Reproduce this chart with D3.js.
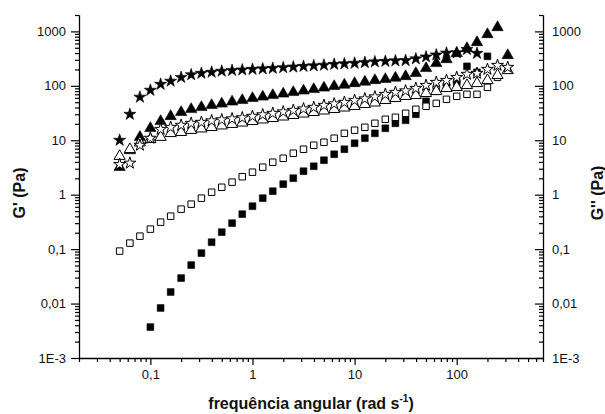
<!DOCTYPE html>
<html><head><meta charset="utf-8">
<script src="https://cdn.jsdelivr.net/npm/d3@7"></script>
<style>
body{margin:0;background:#fff;}
svg{display:block;font-family:Arial,"Liberation Sans",sans-serif;}
</style></head>
<body><svg id="chart" width="605" height="414"></svg>
<script>
const freq = [0.05,0.063,0.079,0.1,0.126,0.158,0.2,0.251,0.316,0.398,0.5,0.631,0.794,1,1.26,1.58,2,2.51,3.16,3.98,5.01,6.31,7.94,10,12.6,15.8,20,25.1,31.6,39.8,50.1,63.1,79.4,100,126,158,200,251,316];
const starFilled = [10,30,62,83,107,122,143,160,170,178,186,192,196,201,205,210,216,222,228,234,240,248,254,260,268,276,282,288,292,313,340,370,400,405,465,395,null,null,null];
const triFilled = [3.2,6.5,11.4,16.6,22.3,27.5,32.7,37,40.3,43.9,46.7,50.9,54.2,59,62.8,66.9,71.3,76,81,86.3,91.9,97.9,104,111,118,126,132,140,149,170,210,259,306,395,488,628,881,1184,363];
const triOpen = [5.1,6.8,9.0,10.4,11.4,13.4,14,15.3,16.3,17.3,18.5,19.7,20.9,22.3,23.8,25.3,27,28.8,30.6,32.6,34.8,37.1,39.5,42.1,45.8,48.8,54.2,59,64.2,66.9,72.9,79.3,90,93.9,102,111,126,156,192];
const starOpen = [3.6,3.8,8.1,10.9,15.9,17.3,18.9,20.5,21.4,22.8,23.8,24.8,25.9,27.6,29.4,31.3,33.3,35.5,37.8,40.3,43.9,46.7,49.8,54.2,57.7,62.8,69.8,76,81,90,102,116,126,143,163,170,201,238,219];
const sqOpen = [0.092,0.129,0.173,0.233,0.313,0.403,0.542,0.67,0.863,1.11,1.37,1.7,2.14,2.59,3.2,3.95,4.67,5.78,6.84,8.1,9.19,10.9,13.4,15.3,17.3,20.5,24.3,26.4,31.3,37.1,42.1,47.7,56.5,64.2,69.8,69.8,93.9,143,null];
const sqFilled = [null,null,null,0.0037,0.0083,0.0163,0.0294,0.0509,0.0845,0.134,0.205,0.3,0.439,0.615,0.863,1.16,1.56,2.01,2.7,3.33,4.3,5.53,6.84,8.81,10.9,13.4,16.6,20.5,23.3,30,52,79.3,97.9,116,228,177,348,null,null];

const xMajor = [0.1,1,10,100];
const xMajorLabels = ["0,1","1","10","100"];
const yMajor = [0.001,0.01,0.1,1,10,100,1000];
const yMajorLabels = ["1E-3","0,01","0,1","1","10","100","1000"];

const svg = d3.select("#chart");
const x = d3.scaleLog().domain([0.02,700]).range([79,543]);
const y = d3.scaleLog().domain([0.001,2000]).range([358,15]);

function minorTicks(lo, hi){
  const out=[];
  for(let e=Math.floor(Math.log10(lo)); e<=Math.ceil(Math.log10(hi)); e++){
    for(let m=1;m<=9;m++){
      const v=m*Math.pow(10,e);
      if(m!==1 && v>=lo*0.9999 && v<=hi*1.0001) out.push(v);
    }
  }
  return out;
}
const xMinor = minorTicks(0.02,700);
const yMinor = minorTicks(0.001,2000);

const fmtX = d => xMajorLabels[xMajor.indexOf(d)];
const fmtY = d => yMajorLabels[yMajor.indexOf(d)];

function styleAxis(g){
  g.select(".domain").attr("stroke","#000").attr("stroke-width",1.3);
  g.selectAll(".tick line").attr("stroke","#000").attr("stroke-width",1.2);
  g.selectAll("text").attr("font-size","13px").attr("fill","#111").attr("font-family","Arial,'Liberation Sans',sans-serif");
}

// bottom axis
const gb = svg.append("g").attr("transform","translate(0,358)");
gb.call(d3.axisBottom(x).tickValues(xMinor).tickSizeInner(4).tickSizeOuter(0).tickFormat(""));
gb.append("g").call(d3.axisBottom(x).tickValues(xMajor).tickSizeInner(7).tickSizeOuter(0).tickPadding(5).tickFormat(fmtX));
styleAxis(gb);

// left axis
const gl = svg.append("g").attr("transform","translate(79,0)");
gl.call(d3.axisLeft(y).tickValues(yMinor).tickSizeInner(4).tickSizeOuter(0).tickFormat(""));
gl.append("g").call(d3.axisLeft(y).tickValues(yMajor).tickSizeInner(8).tickSizeOuter(0).tickPadding(5).tickFormat(fmtY));
styleAxis(gl);

// right axis (ticks point inward)
const gr = svg.append("g").attr("transform","translate(543,0)");
gr.call(d3.axisRight(y).tickValues(yMinor).tickSizeInner(-4).tickSizeOuter(0).tickFormat(""));
gr.append("g").call(d3.axisRight(y).tickValues(yMajor).tickSizeInner(-8).tickSizeOuter(0).tickPadding(9).tickFormat(fmtY));
styleAxis(gr);

// series
const series = [
  {data:sqFilled, type:d3.symbolSquare, size:46, fill:"#000"},
  {data:sqOpen, type:d3.symbolSquare, size:42, fill:"#fff"},
  {data:triFilled, type:d3.symbolTriangle, size:56, fill:"#000"},
  {data:triOpen, type:d3.symbolTriangle, size:54, fill:"#fff"},
  {data:starFilled, type:d3.symbolStar, size:46, fill:"#000"},
  {data:starOpen, type:d3.symbolStar, size:44, fill:"#fff"}
];
series.forEach(s=>{
  const pts = freq.map((f,i)=>({f, v:s.data[i]})).filter(d=>d.v!=null);
  svg.append("g").selectAll("path").data(pts).join("path")
    .attr("d", d3.symbol().type(s.type).size(s.size))
    .attr("transform", d=>`translate(${x(d.f)},${y(d.v)})`)
    .attr("fill", s.fill)
    .attr("stroke","#000")
    .attr("stroke-width", s.fill==="#fff"?1:0.6)
    .attr("stroke-linejoin","miter");
});

// titles
const xt = svg.append("text").attr("x",311).attr("y",409).attr("text-anchor","middle")
  .attr("font-size","16px").attr("font-weight","bold").attr("fill","#111");
xt.append("tspan").text("frequência angular (rad s");
xt.append("tspan").attr("dy",-7).attr("font-size","10px").text("-1");
xt.append("tspan").attr("dy",7).text(")");

svg.append("text").attr("transform","translate(25,193) rotate(-90)").attr("text-anchor","middle")
  .attr("font-size","16px").attr("font-weight","bold").attr("fill","#111").text("G' (Pa)");
svg.append("text").attr("transform","translate(603,193) rotate(-90)").attr("text-anchor","middle")
  .attr("font-size","16px").attr("font-weight","bold").attr("fill","#111").text("G'' (Pa)");
</script></body></html>
